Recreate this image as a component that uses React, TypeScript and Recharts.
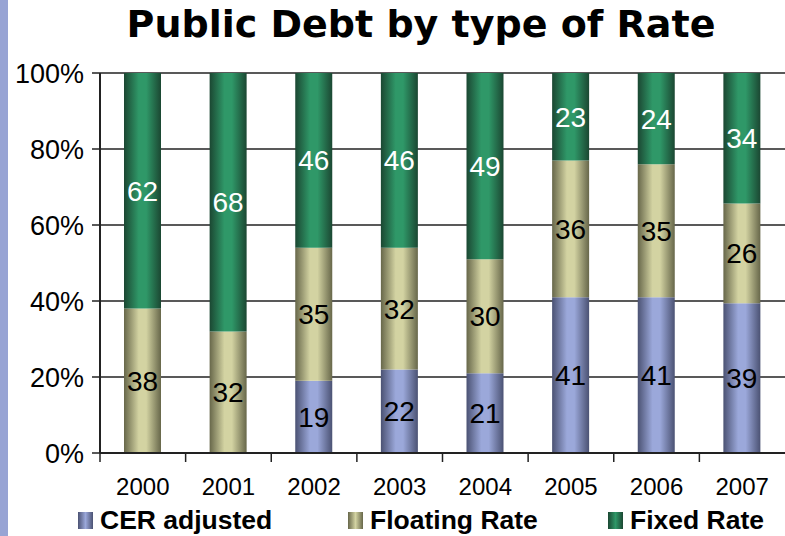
import { BarChart, Bar, XAxis, YAxis, CartesianGrid, LabelList } from 'recharts';

const years = ['2000', '2001', '2002', '2003', '2004', '2005', '2006', '2007'];
const cerAdjusted = [0, 0, 19, 22, 21, 41, 41, 39];
const floatingRate = [38, 32, 35, 32, 30, 36, 35, 26];
const fixedRate = [62, 68, 46, 46, 49, 23, 24, 34];
const yTicks = [0, 0.2, 0.4, 0.6, 0.8, 1];

const series = [
  { key: 'cer', name: 'CER adjusted', light: '#9ba8da', dark: '#4b5273', labelColor: '#000' },
  { key: 'floating', name: 'Floating Rate', light: '#d3d3a2', dark: '#67674a', labelColor: '#000' },
  { key: 'fixed', name: 'Fixed Rate', light: '#2f9868', dark: '#1b4732', labelColor: '#fff' },
];

const data = years.map((year, i) => ({
  year,
  cer: cerAdjusted[i],
  floating: floatingRate[i],
  fixed: fixedRate[i],
}));

const font = '"Liberation Sans", Arial, sans-serif';

function YearTick(props: any) {
  const { x, y, payload, width, visibleTicksCount } = props;
  const band = width / visibleTicksCount;
  return (
    <g>
      <line x1={x - band / 2} x2={x - band / 2} y1={y - 8} y2={y + 1} stroke="#222" strokeWidth={1.5} />
      <text x={x} y={y + 34} textAnchor="middle" fontSize={24} fontFamily={font} fill="#000">
        {payload.value}
      </text>
    </g>
  );
}

function hideZero(v: any) {
  return v ? v : '';
}

export default function App() {
  return (
    <div style={{ position: 'absolute', left: 0, top: 0, width: 785, height: 536, background: '#fff', overflow: 'hidden' }}>
      <div style={{ position: 'absolute', left: 0, top: 0, width: 8, height: 536, background: '#98a4d4' }} />
      <div
        style={{
          position: 'absolute',
          left: 0,
          top: 0,
          width: 842,
          textAlign: 'center',
          fontFamily: '"DejaVu Sans", sans-serif',
          fontWeight: 'bold',
          fontSize: 38,
          lineHeight: '48px',
          color: '#000',
        }}
      >
        Public Debt by type of Rate
      </div>
      <BarChart
        width={785}
        height={536}
        data={data}
        stackOffset="expand"
        barSize={37}
        margin={{ top: 73, right: 0, bottom: 43, left: 0 }}
      >
        <defs>
          {series.map(s => (
            <linearGradient key={s.key} id={`grad-${s.key}`} x1="0" y1="0" x2="1" y2="0">
              <stop offset="0%" stopColor={s.dark} />
              <stop offset="40%" stopColor={s.light} />
              <stop offset="60%" stopColor={s.light} />
              <stop offset="100%" stopColor={s.dark} />
            </linearGradient>
          ))}
        </defs>
        <CartesianGrid vertical={false} stroke="#222" strokeWidth={1.5} />
        <XAxis
          dataKey="year"
          height={40}
          tickLine={false}
          axisLine={{ stroke: '#222', strokeWidth: 2 }}
          tick={<YearTick />}
          interval={0}
        />
        <YAxis
          width={100}
          ticks={yTicks}
          domain={[0, 1]}
          tickFormatter={(v: number) => `${Math.round(v * 100)}%`}
          tickSize={8}
          tickLine={{ stroke: '#222', strokeWidth: 1.5 }}
          axisLine={{ stroke: '#222', strokeWidth: 2 }}
          tick={{ fontSize: 27, fontFamily: font, fill: '#000', dx: -6 }}
        />
        {series.map(s => (
          <Bar key={s.key} dataKey={s.key} name={s.name} stackId="a" fill={`url(#grad-${s.key})`} isAnimationActive={false}>
            <LabelList
              dataKey={s.key}
              position="center"
              formatter={hideZero}
              style={{ fontSize: 28, fontFamily: font, fill: s.labelColor }}
            />
          </Bar>
        ))}
      </BarChart>
      <div style={{ position: 'absolute', top: 505, left: 0, width: 785, height: 30, fontFamily: font, fontWeight: 'bold', fontSize: 26.5 }}>
        {series.map((s, i) => (
          <div key={s.key} style={{ position: 'absolute', left: [78, 348, 608][i], top: 0, display: 'flex', alignItems: 'center' }}>
            <span
              style={{
                display: 'inline-block',
                width: 15,
                height: 17,
                marginRight: 7,
                background: `linear-gradient(to right, ${s.dark}, ${s.light} 50%, ${s.dark})`,
              }}
            />
            <span>{s.name}</span>
          </div>
        ))}
      </div>
    </div>
  );
}
